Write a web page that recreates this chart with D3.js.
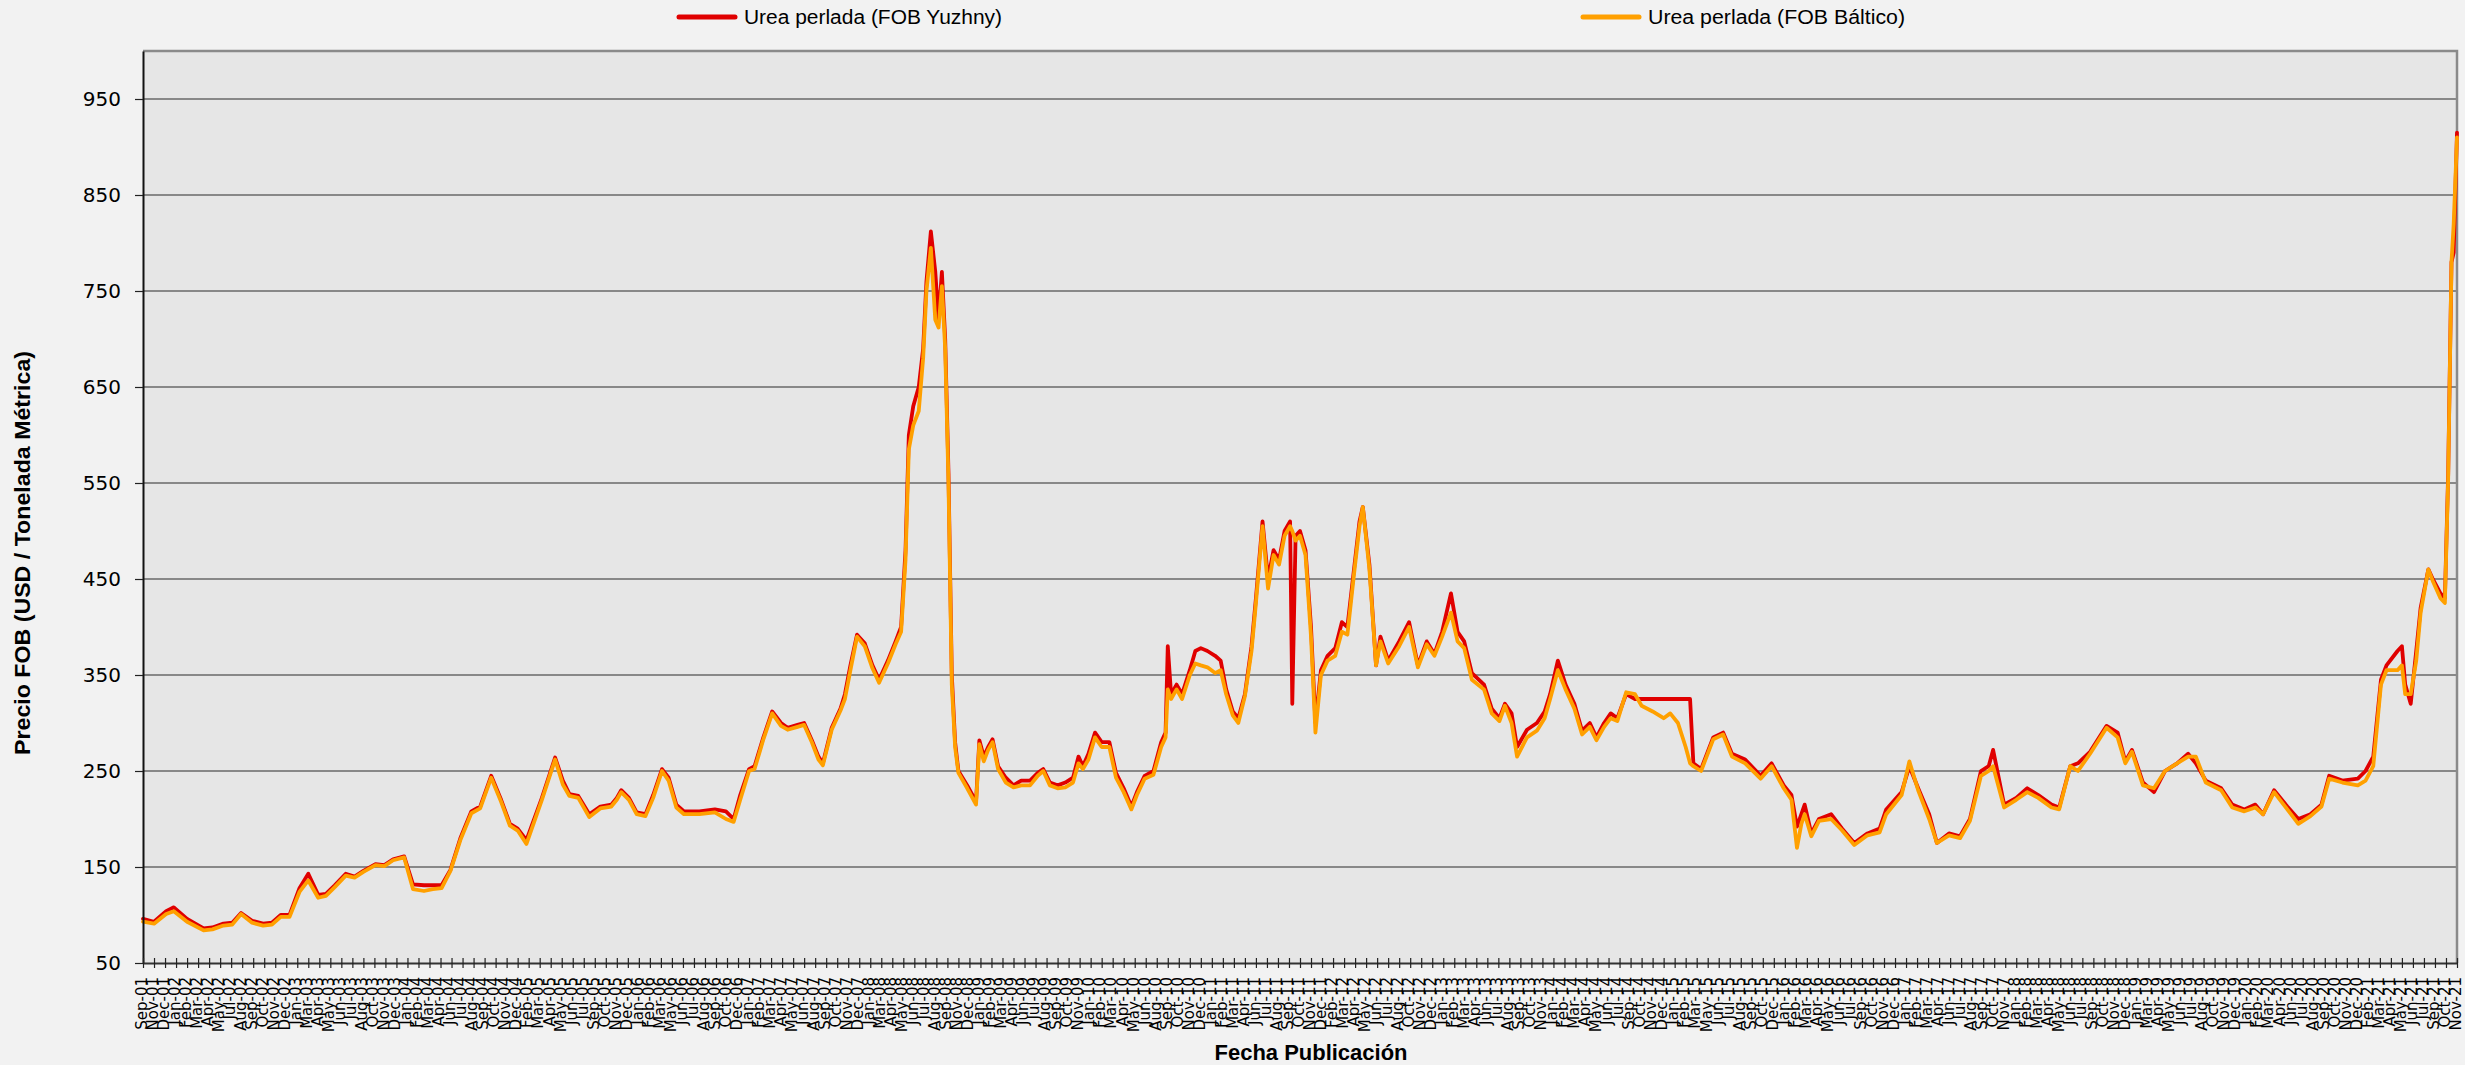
<!DOCTYPE html>
<html><head><meta charset="utf-8">
<script src="https://cdn.jsdelivr.net/npm/d3@7"></script>
<style>body{margin:0;background:#f2f2f2;overflow:hidden} svg{display:block}</style>
</head><body><svg id="c" width="2465" height="1065"></svg>
<script>
const labels = ["Sep-01","Nov-01","Dec-01",
"Jan-02","Feb-02","Mar-02","Apr-02","May-02","Jul-02","Aug-02","Sep-02","Oct-02","Nov-02","Dec-02",
"Jan-03","Mar-03","Apr-03","May-03","Jun-03","Jul-03","Aug-03","Oct-03","Nov-03","Dec-03",
"Jan-04","Feb-04","Mar-04","Apr-04","Jun-04","Jul-04","Aug-04","Sep-04","Oct-04","Nov-04","Dec-04",
"Feb-05","Mar-05","Apr-05","May-05","Jun-05","Jul-05","Sep-05","Oct-05","Nov-05","Dec-05",
"Jan-06","Feb-06","Mar-06","May-06","Jun-06","Jul-06","Aug-06","Sep-06","Oct-06","Dec-06",
"Jan-07","Feb-07","Mar-07","Apr-07","May-07","Jun-07","Aug-07","Sep-07","Oct-07","Nov-07","Dec-07",
"Jan-08","Mar-08","Apr-08","May-08","Jun-08","Jul-08","Aug-08","Sep-08","Nov-08","Dec-08",
"Jan-09","Feb-09","Mar-09","Apr-09","Jun-09","Jul-09","Aug-09","Sep-09","Oct-09","Nov-09",
"Jan-10","Feb-10","Mar-10","Apr-10","May-10","Jun-10","Aug-10","Sep-10","Oct-10","Nov-10","Dec-10",
"Jan-11","Feb-11","Mar-11","Apr-11","Jun-11","Jul-11","Aug-11","Sep-11","Oct-11","Nov-11","Dec-11",
"Feb-12","Mar-12","Apr-12","May-12","Jun-12","Jul-12","Aug-12","Oct-12","Nov-12","Dec-12",
"Jan-13","Feb-13","Mar-13","Apr-13","Jun-13","Jul-13","Aug-13","Sep-13","Oct-13","Nov-13",
"Jan-14","Feb-14","Mar-14","Apr-14","May-14","Jun-14","Jul-14","Sep-14","Oct-14","Nov-14","Dec-14",
"Jan-15","Feb-15","Mar-15","May-15","Jun-15","Jul-15","Aug-15","Sep-15","Oct-15","Dec-15",
"Jan-16","Feb-16","Mar-16","Apr-16","May-16","Jun-16","Jul-16","Sep-16","Oct-16","Nov-16","Dec-16",
"Jan-17","Feb-17","Mar-17","Apr-17","Jun-17","Jul-17","Aug-17","Sep-17","Oct-17","Nov-17",
"Jan-18","Feb-18","Mar-18","Apr-18","May-18","Jun-18","Jul-18","Sep-18","Oct-18","Nov-18","Dec-18",
"Jan-19","Mar-19","Apr-19","May-19","Jun-19","Jul-19","Aug-19","Oct-19","Nov-19","Dec-19",
"Jan-20","Feb-20","Mar-20","Apr-20","Jun-20","Jul-20","Aug-20","Sep-20","Oct-20","Nov-20","Dec-20",
"Feb-21","Mar-21","Apr-21","May-21","Jun-21","Jul-21","Sep-21","Oct-21","Nov-21"];

const yTicks = [50,150,250,350,450,550,650,750,850,950];

const seriesNames = ["Urea perlada (FOB Yuzhny)","Urea perlada (FOB Báltico)"];

// observation positions (in label-index units along the category axis)
const pos = [
0,1.0,2.1,2.8,4.0,5.5,6.3,7.3,8.1,8.9,
9.9,10.9,11.7,12.5,13.3,14.2,15.0,15.9,16.6,17.4,
18.4,19.2,20.0,21.1,21.9,22.7,23.7,24.5,25.5,26.3,
27.1,27.9,28.8,29.8,30.6,31.6,32.5,33.3,34.0,34.8,
36.2,37.4,38.1,38.7,39.5,40.5,41.5,42.5,43.0,43.4,
44.1,44.8,45.6,46.3,47.1,47.7,48.4,49.1,50.5,51.9,
52.9,53.6,54.2,55.0,55.5,56.3,57.1,57.9,58.5,59.4,
60.0,60.7,61.3,61.7,62.5,63.3,63.7,64.2,64.8,65.5,
66.2,66.8,67.6,68.3,68.8,69.2,69.5,69.9,70.4,70.8,
71.1,71.5,71.9,72.2,72.5,72.8,73.1,73.4,73.7,74.0,
74.8,75.6,75.9,76.3,76.7,77.1,77.6,78.3,79.0,79.7,
80.5,81.2,81.7,82.3,83.0,83.7,84.4,84.9,85.3,85.8,
86.4,87.0,87.7,88.3,89.0,89.7,90.2,90.9,91.7,92.4,
92.8,93.0,93.3,93.8,94.3,95.0,95.5,96.0,96.6,97.3,
97.8,98.3,98.9,99.4,100.0,100.6,101.0,101.6,102.1,102.6,
103.1,103.6,104.1,104.3,104.6,105.0,105.5,106.0,106.4,106.9,
107.5,108.2,108.8,109.3,109.9,110.4,110.7,111.3,111.9,112.3,
113.0,114.0,114.9,115.7,116.5,117.2,117.9,118.7,119.3,119.9,
120.6,121.7,122.4,123.1,123.6,124.2,124.7,125.6,126.5,127.2,
127.7,128.4,129.1,129.9,130.6,131.3,131.9,132.6,133.2,133.8,
134.6,135.4,136.0,137.0,138.0,138.6,139.3,140.0,140.4,140.7,
141.4,142.5,143.4,144.2,145.4,146.8,147.8,148.9,149.6,150.1,
150.5,150.8,151.4,152.1,153.2,154.2,155.3,156.5,157.6,158.2,
159.6,160.3,161.1,162.1,162.8,163.9,164.9,165.8,166.8,167.5,
167.9,168.9,170.0,171.0,172.0,173.2,173.9,174.9,175.6,176.7,
178.2,179.2,179.9,180.5,181.5,182.5,183.5,184.6,185.6,186.3,
187.2,188.6,189.6,190.7,191.7,192.4,193.4,194.6,195.6,196.7,
197.7,198.4,199.6,201.0,201.7,202.4,203.1,203.6,204.6,205.0,
205.3,205.8,206.3,206.7,207.4,207.8,208.5,208.9,209.2,209.5,
209.7,210.0];

const yuzhny = [
96,93,104,108,96,86,87,91,92,102,
94,91,92,100,100,128,143,121,122,131,
143,140,146,153,152,158,161,132,131,131,
131,147,180,208,213,245,220,195,190,178,
222,264,240,226,224,205,213,215,222,230,
222,207,205,225,252,243,215,208,208,210,
208,200,225,252,255,285,312,300,295,298,
300,282,265,258,295,315,330,360,392,383,
360,345,365,385,400,480,600,630,650,690,
760,812,770,720,770,700,560,350,280,250,
235,218,282,265,275,283,255,243,235,240,
240,248,252,238,235,238,243,265,255,268,
290,280,280,248,232,213,228,245,250,280,
290,380,330,340,330,355,375,378,375,370,
365,335,312,305,330,380,430,510,450,480,
470,500,510,320,495,500,480,400,300,355,
370,378,405,400,460,510,525,465,360,390,
365,385,405,360,385,372,395,435,395,385,
352,340,315,305,320,310,275,293,300,312,
330,365,340,320,292,300,285,300,310,305,
330,325,325,325,325,325,325,325,325,258,
252,285,290,268,262,245,258,235,225,192,
205,215,185,200,205,190,175,185,190,210,
228,255,232,205,175,185,182,200,250,255,
272,215,222,232,225,215,212,255,258,270,
297,290,260,272,238,228,250,258,268,258,
240,232,215,210,215,205,230,213,200,205,
215,245,240,242,250,265,345,360,375,380,
340,320,375,420,460,450,435,430,560,780,
790,915];

const baltico = [
93,91,101,104,93,84,85,89,90,101,
92,89,90,98,98,124,136,118,120,129,
141,139,145,152,151,157,160,127,125,127,
128,146,178,206,211,243,218,193,188,174,
220,262,236,224,222,202,211,213,220,228,
220,205,203,222,250,240,212,205,205,207,
200,197,220,250,252,283,310,297,293,296,
298,280,262,256,293,313,325,355,390,380,
357,342,362,382,395,470,585,610,625,680,
750,795,720,712,755,690,550,340,275,248,
232,215,278,260,272,280,252,238,233,235,
235,245,250,235,232,233,238,258,252,262,
285,275,275,243,228,210,225,242,246,275,
285,335,325,335,325,350,362,360,358,352,
355,330,308,300,328,375,425,505,440,475,
465,495,505,500,490,495,475,390,290,350,
365,370,395,392,455,505,525,460,360,385,
362,380,400,358,382,370,390,415,385,378,
345,335,310,302,318,300,265,285,292,305,
325,355,335,315,288,296,282,296,305,302,
332,330,318,312,305,310,300,275,258,255,
250,283,288,265,258,242,255,232,220,170,
195,205,182,198,200,188,173,183,186,205,
225,260,230,200,175,183,180,198,245,250,
255,212,220,228,222,212,210,255,250,268,
295,285,258,270,235,232,250,258,265,265,
238,230,212,208,212,205,228,210,195,203,
213,242,238,235,240,255,340,355,355,360,
330,330,365,415,460,448,430,425,555,780,
820,910];

const colors = ["#e00000","#ffa000"];

const W = 2465, H = 1065;
const L = 143, R = 2457, T = 51, B = 963;
const svg = d3.select("#c");
svg.append("rect").attr("width", W).attr("height", H).attr("fill", "#f2f2f2");

const x = d3.scaleLinear().domain([0, labels.length - 1]).range([L, R]);
const xp = d3.scalePoint().domain(labels).range([L, R]);
const y = d3.scaleLinear().domain([50, 1000]).range([B, T]);

svg.append("rect").attr("x", L).attr("y", T).attr("width", R - L).attr("height", B - T).attr("fill", "#e6e6e6");

svg.append("g").selectAll("line").data(yTicks.slice(1)).join("line")
  .attr("x1", L).attr("x2", R).attr("y1", d => y(d)).attr("y2", d => y(d))
  .attr("stroke", "#2b2b2b").attr("stroke-width", 1.2);

svg.append("path").attr("d", `M${L},${T}H${R}V${B}`).attr("fill", "none")
  .attr("stroke", "#8a8a8a").attr("stroke-width", 2.5);

// series lines
const lineGen = d3.line().x(d => x(d[0])).y(d => y(d[1])).curve(d3.curveLinear);
[yuzhny, baltico].forEach((vals, k) => {
  svg.append("path").datum(pos.map((p, i) => [p, vals[i]]))
    .attr("d", lineGen).attr("fill", "none").attr("stroke", colors[k])
    .attr("stroke-width", 3.8).attr("stroke-linejoin", "round").attr("stroke-linecap", "round");
});

// y axis
const ya = svg.append("g").attr("transform", `translate(${L},0)`)
  .call(d3.axisLeft(y).tickValues(yTicks).tickSize(8).tickSizeOuter(0).tickPadding(14));
ya.select(".domain").attr("stroke", "#111").attr("stroke-width", 2);
ya.selectAll(".tick line").attr("stroke", "#222").attr("stroke-width", 1.2);
ya.selectAll(".tick text").attr("font-family", "DejaVu Sans").attr("font-size", 20).attr("fill", "#000");

// x axis
const xa = svg.append("g").attr("transform", `translate(0,${B})`)
  .call(d3.axisBottom(xp).tickSize(5).tickSizeOuter(0).tickPadding(0));
xa.select(".domain").attr("stroke", "#333").attr("stroke-width", 2.2);
xa.selectAll(".tick line").attr("y1", -5).attr("y2", 5).attr("stroke", "#222").attr("stroke-width", 1.2);
xa.selectAll(".tick text")
  .attr("font-family", "DejaVu Sans").attr("font-size", 15).attr("fill", "#000")
  .attr("transform", "rotate(-90)").attr("text-anchor", "end")
  .attr("x", -14).attr("y", 0).attr("dy", "0.22em");

// legend
const legX = [679, 1583];
const legLen = [258, 257];
seriesNames.forEach((name, k) => {
  svg.append("line").attr("x1", legX[k]).attr("x2", legX[k] + 56).attr("y1", 17).attr("y2", 17)
    .attr("stroke", colors[k]).attr("stroke-width", 5).attr("stroke-linecap", "round");
  svg.append("text").attr("x", legX[k] + 65).attr("y", 24).text(name)
    .attr("font-family", "Liberation Sans, Arial, sans-serif").attr("font-size", 20)
    .attr("textLength", legLen[k]).attr("lengthAdjust", "spacingAndGlyphs").attr("fill", "#000");
});

// axis titles
svg.append("text").attr("x", 1311).attr("y", 1060).attr("text-anchor", "middle")
  .attr("font-family", "Liberation Sans, Arial, sans-serif").attr("font-weight", "bold").attr("font-size", 22)
  .attr("textLength", 193).attr("lengthAdjust", "spacingAndGlyphs")
  .text("Fecha Publicación");
svg.append("text").attr("transform", "translate(30,553) rotate(-90)").attr("text-anchor", "middle")
  .attr("font-family", "Liberation Sans, Arial, sans-serif").attr("font-weight", "bold").attr("font-size", 22)
  .attr("textLength", 404).attr("lengthAdjust", "spacingAndGlyphs")
  .text("Precio FOB (USD / Tonelada Métrica)");
</script>
</body></html>
